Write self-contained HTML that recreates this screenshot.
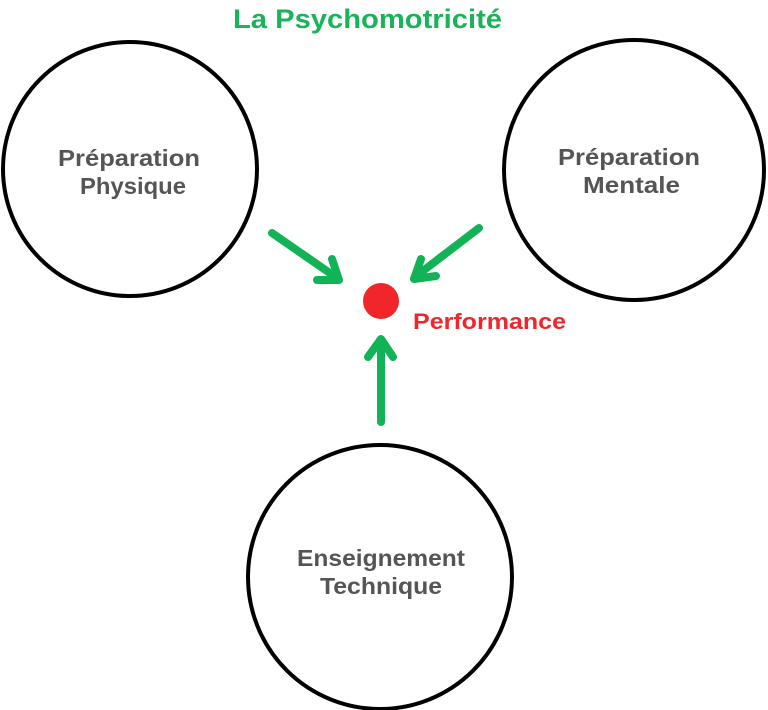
<!DOCTYPE html>
<html><head><meta charset="utf-8"><style>
html,body{margin:0;padding:0;background:#fff;}
svg{display:block;}
text{font-family:"Liberation Sans",sans-serif;font-weight:bold;}
</style></head><body>
<svg width="768" height="710" viewBox="0 0 768 710" xmlns="http://www.w3.org/2000/svg">
<text x="233" y="28" font-size="27" fill="#1bb35a" textLength="269" lengthAdjust="spacingAndGlyphs">La Psychomotricité</text>
<circle cx="130" cy="169" r="127" fill="none" stroke="#000" stroke-width="4"/>
<circle cx="634" cy="170" r="130" fill="none" stroke="#000" stroke-width="4"/>
<circle cx="380" cy="577" r="132" fill="none" stroke="#000" stroke-width="4"/>
<g font-size="23" fill="#555">
<text x="58" y="166" textLength="142" lengthAdjust="spacingAndGlyphs">Préparation</text>
<text x="80" y="194" textLength="106" lengthAdjust="spacingAndGlyphs">Physique</text>
<text x="558" y="165" textLength="142" lengthAdjust="spacingAndGlyphs">Préparation</text>
<text x="583" y="193" textLength="97" lengthAdjust="spacingAndGlyphs">Mentale</text>
<text x="297" y="566" textLength="168" lengthAdjust="spacingAndGlyphs">Enseignement</text>
<text x="320" y="594" textLength="122" lengthAdjust="spacingAndGlyphs">Technique</text>
</g>
<circle cx="381" cy="301" r="18" fill="#f0262b"/>
<text x="413" y="329" font-size="22" fill="#f0262b" textLength="153" lengthAdjust="spacingAndGlyphs">Performance</text>
<g stroke="#12b357" stroke-width="8" fill="none" stroke-linecap="round" stroke-linejoin="round">
<line x1="272" y1="233" x2="337" y2="278"/>
<polyline points="332,259 339,280 317,280"/>
<line x1="479" y1="228" x2="415" y2="277"/>
<polyline points="421,259 414,279 436,276"/>
<line x1="381" y1="422" x2="381" y2="341"/>
<polyline points="368,357 381,339 393,357"/>
</g>
</svg>
</body></html>
